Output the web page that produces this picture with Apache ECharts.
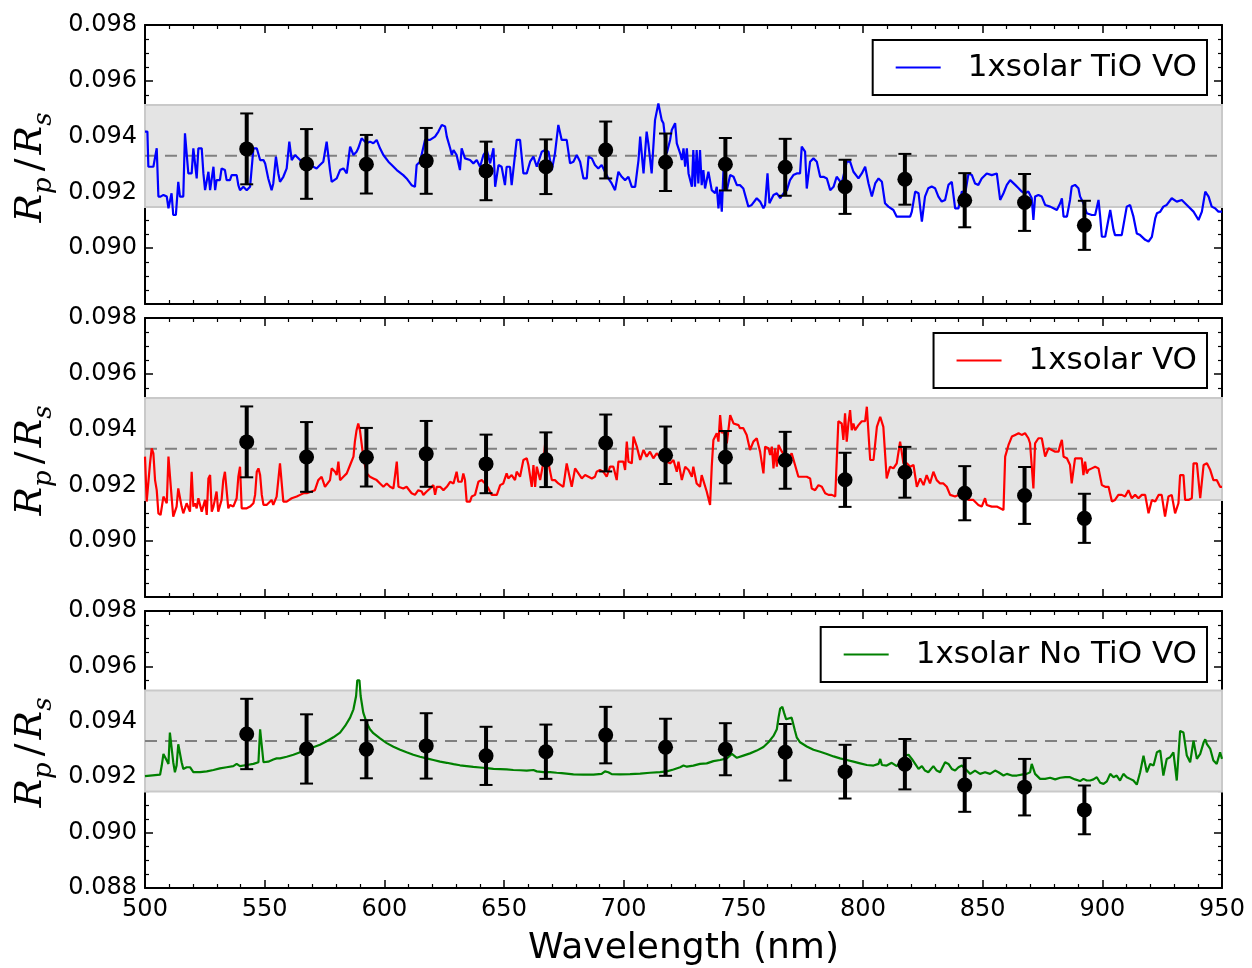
<!DOCTYPE html>
<html>
<head>
<meta charset="utf-8">
<script src="https://cdn.jsdelivr.net/npm/echarts@6/dist/echarts.min.js"></script>
<style>
  html, body { margin: 0; padding: 0; background: #fff; }
  #chart { width: 1252px; height: 968px; }
</style>
</head>
<body>
<div id="chart"></div>
<script>
// binned transit depths (wavelength nm, Rp/Rs, 1-sigma error)
var binWave = [542.5, 567.5, 592.5, 617.5, 642.5, 667.5, 692.5, 717.5, 742.5, 767.5, 792.5, 817.5, 842.5, 867.5, 892.5];
var binRp = [0.09356, 0.09302, 0.09301, 0.09313, 0.09277, 0.09292, 0.09352, 0.09308, 0.09301, 0.09290, 0.09220, 0.09247, 0.09172, 0.09164, 0.09082];
var binErr = [0.00127, 0.00125, 0.00105, 0.00118, 0.00105, 0.00098, 0.00102, 0.00103, 0.00094, 0.00102, 0.00097, 0.00091, 0.00097, 0.00102, 0.00088];

// grey band and mean level
var bandLow = 0.09148;
var bandHigh = 0.09513;
var meanRp = 0.09331;

var xTicks = [500, 950, 50];
var yTicks = [0.088, 0.098, 0.002];

var names = ['1xsolar TiO VO', '1xsolar VO', '1xsolar No TiO VO'];
var colors = ['#0000ff', '#ff0000', '#008000'];

// model spectra [wavelength, Rp/Rs]
var modelTiOVO = [[500.0,0.09418],[501.0,0.09418],[501.4,0.09292],[503.5,0.09292],[504.9,0.09358],[505.6,0.09185],[506.5,0.09185],[507.7,0.09191],[509.1,0.09185],[509.8,0.09143],[510.4,0.09143],[511.1,0.09197],[511.8,0.09119],[512.9,0.09119],[513.9,0.09238],[514.6,0.09185],[516.0,0.09185],[516.7,0.09412],[517.4,0.09412],[518.1,0.09268],[519.5,0.09268],[520.2,0.09358],[521.6,0.09250],[522.3,0.09358],[523.7,0.09358],[524.4,0.09268],[525.1,0.09208],[525.8,0.09208],[526.5,0.09274],[527.2,0.09208],[528.6,0.09292],[529.3,0.09208],[529.9,0.09244],[531.3,0.09244],[532.0,0.09286],[533.4,0.09280],[534.1,0.09244],[535.5,0.09244],[536.2,0.09262],[538.3,0.09262],[539.0,0.09226],[539.7,0.09208],[540.4,0.09208],[541.1,0.09220],[542.5,0.09208],[543.9,0.09220],[545.3,0.09358],[546.7,0.09358],[548.1,0.09316],[549.5,0.09316],[550.2,0.09304],[551.5,0.09250],[552.9,0.09208],[553.6,0.09232],[554.7,0.09328],[555.7,0.09268],[556.4,0.09238],[557.8,0.09256],[559.2,0.09286],[560.3,0.09382],[561.3,0.09316],[562.7,0.09334],[564.8,0.09316],[566.2,0.09316],[567.6,0.09298],[569.0,0.09304],[570.3,0.09292],[571.7,0.09286],[573.1,0.09298],[574.5,0.09310],[575.9,0.09382],[577.3,0.09280],[578.0,0.09238],[580.1,0.09250],[581.5,0.09280],[582.9,0.09286],[584.3,0.09268],[585.7,0.09364],[587.1,0.09334],[588.4,0.09346],[589.1,0.09358],[590.5,0.09394],[592.6,0.09376],[594.0,0.09382],[595.4,0.09376],[596.8,0.09388],[598.2,0.09358],[599.6,0.09334],[601.7,0.09310],[603.1,0.09298],[605.2,0.09280],[607.9,0.09262],[609.3,0.09250],[611.4,0.09226],[612.8,0.09220],[613.5,0.09298],[614.9,0.09310],[617.0,0.09388],[619.1,0.09388],[621.2,0.09400],[622.6,0.09418],[624.0,0.09442],[625.4,0.09436],[626.1,0.09400],[627.5,0.09358],[628.2,0.09334],[628.9,0.09352],[630.2,0.09334],[631.6,0.09280],[632.3,0.09358],[633.7,0.09322],[635.8,0.09316],[637.2,0.09304],[638.6,0.09316],[640.0,0.09292],[641.4,0.09334],[642.8,0.09352],[644.2,0.09304],[645.6,0.09358],[646.3,0.09220],[647.7,0.09298],[649.0,0.09292],[650.4,0.09226],[651.1,0.09292],[652.5,0.09292],[653.2,0.09226],[655.3,0.09388],[656.7,0.09388],[658.1,0.09268],[659.5,0.09268],[660.9,0.09310],[662.3,0.09328],[663.7,0.09292],[665.8,0.09346],[667.2,0.09352],[668.6,0.09346],[670.0,0.09280],[671.3,0.09340],[672.7,0.09442],[674.1,0.09388],[676.2,0.09388],[677.6,0.09304],[679.0,0.09310],[680.4,0.09334],[681.8,0.09310],[683.2,0.09250],[684.6,0.09250],[685.3,0.09328],[686.7,0.09322],[688.0,0.09298],[689.4,0.09286],[690.8,0.09298],[693.6,0.09250],[695.0,0.09232],[696.4,0.09208],[697.8,0.09274],[699.2,0.09256],[700.6,0.09244],[702.0,0.09256],[703.4,0.09220],[704.8,0.09220],[706.2,0.09316],[706.9,0.09400],[708.3,0.09268],[709.6,0.09418],[710.3,0.09376],[711.7,0.09268],[713.1,0.09459],[714.5,0.09519],[715.2,0.09519],[715.9,0.09459],[716.6,0.09448],[718.0,0.09340],[719.4,0.09388],[720.1,0.09424],[721.5,0.09448],[722.2,0.09376],[723.6,0.09340],[724.3,0.09316],[725.0,0.09358],[725.7,0.09292],[726.4,0.09358],[727.1,0.09268],[728.5,0.09220],[729.1,0.09352],[729.8,0.09220],[730.5,0.09352],[731.2,0.09232],[731.9,0.09352],[732.6,0.09226],[733.3,0.09280],[734.0,0.09214],[735.4,0.09274],[736.8,0.09208],[738.2,0.09197],[738.9,0.09220],[739.6,0.09143],[740.3,0.09208],[741.0,0.09131],[741.7,0.09280],[743.1,0.09208],[744.5,0.09262],[745.9,0.09256],[747.3,0.09226],[748.6,0.09226],[750.0,0.09214],[750.7,0.09220],[752.1,0.09149],[753.5,0.09155],[755.6,0.09179],[757.0,0.09167],[758.4,0.09143],[759.1,0.09155],[760.1,0.09268],[760.9,0.09161],[762.6,0.09191],[764.0,0.09197],[765.4,0.09179],[766.8,0.09197],[768.2,0.09208],[769.5,0.09244],[770.9,0.09262],[772.3,0.09268],[773.7,0.09268],[774.4,0.09364],[775.8,0.09346],[776.5,0.09214],[777.9,0.09310],[779.3,0.09322],[780.7,0.09310],[782.1,0.09256],[783.5,0.09256],[784.9,0.09250],[786.3,0.09208],[787.7,0.09220],[789.0,0.09256],[791.1,0.09232],[793.2,0.09310],[794.6,0.09310],[796.0,0.09274],[798.1,0.09250],[799.5,0.09268],[800.9,0.09292],[802.3,0.09232],[803.7,0.09185],[805.1,0.09232],[806.5,0.09250],[807.9,0.09238],[809.2,0.09161],[810.6,0.09149],[812.7,0.09137],[814.1,0.09113],[815.5,0.09113],[819.7,0.09113],[820.4,0.09131],[821.8,0.09203],[823.2,0.09197],[824.6,0.09095],[825.9,0.09185],[827.3,0.09215],[828.7,0.09221],[830.1,0.09215],[831.5,0.09185],[832.9,0.09167],[834.3,0.09173],[835.7,0.09227],[837.1,0.09238],[838.5,0.09143],[839.9,0.09143],[841.3,0.09203],[842.7,0.09197],[844.1,0.09268],[845.5,0.09262],[846.8,0.09232],[848.2,0.09227],[849.6,0.09250],[851.7,0.09268],[853.8,0.09262],[855.9,0.09268],[857.3,0.09173],[858.7,0.09197],[860.1,0.09227],[861.5,0.09244],[863.6,0.09227],[865.0,0.09215],[866.3,0.09203],[867.7,0.09197],[869.1,0.09203],[870.5,0.09179],[871.2,0.09101],[871.9,0.09185],[873.3,0.09191],[874.7,0.09185],[876.1,0.09155],[878.2,0.09149],[879.6,0.09143],[881.0,0.09137],[882.4,0.09161],[883.1,0.09179],[883.8,0.09113],[885.2,0.09113],[886.5,0.09173],[887.2,0.09221],[888.6,0.09227],[890.0,0.09215],[890.7,0.09185],[892.1,0.09161],[893.5,0.09125],[895.6,0.09119],[897.0,0.09119],[898.4,0.09173],[899.1,0.09113],[899.8,0.09041],[901.2,0.09041],[903.3,0.09137],[904.7,0.09065],[905.3,0.09047],[908.1,0.09047],[910.2,0.09149],[911.6,0.09155],[913.0,0.09113],[914.4,0.09053],[915.8,0.09047],[917.9,0.09030],[919.3,0.09024],[920.7,0.09041],[922.1,0.09107],[922.8,0.09125],[924.2,0.09131],[925.5,0.09149],[926.9,0.09155],[929.0,0.09179],[931.1,0.09167],[933.2,0.09173],[935.3,0.09155],[938.1,0.09131],[940.2,0.09101],[941.6,0.09131],[943.0,0.09203],[944.4,0.09185],[945.7,0.09149],[947.1,0.09143],[948.5,0.09131],[950.0,0.09131]];

var modelVO = [[500.0,0.09303],[500.7,0.09142],[501.4,0.09136],[502.1,0.09279],[502.8,0.09333],[503.5,0.09315],[504.2,0.09219],[504.9,0.09183],[505.6,0.09100],[506.5,0.09094],[507.7,0.09160],[508.4,0.09166],[509.1,0.09136],[509.8,0.09303],[510.4,0.09303],[511.1,0.09160],[511.8,0.09088],[513.2,0.09124],[513.9,0.09189],[514.6,0.09189],[515.3,0.09124],[516.0,0.09100],[517.4,0.09136],[518.8,0.09106],[519.5,0.09249],[520.2,0.09124],[520.9,0.09136],[521.6,0.09118],[522.3,0.09154],[523.0,0.09148],[523.7,0.09106],[524.4,0.09100],[525.1,0.09148],[525.8,0.09094],[526.5,0.09225],[527.2,0.09237],[527.9,0.09106],[528.6,0.09124],[529.9,0.09178],[530.6,0.09106],[531.3,0.09106],[532.0,0.09148],[532.7,0.09219],[533.4,0.09249],[534.1,0.09183],[534.8,0.09118],[535.5,0.09130],[536.9,0.09124],[538.3,0.09154],[539.0,0.09231],[539.7,0.09267],[540.4,0.09118],[542.5,0.09118],[543.9,0.09124],[545.3,0.09136],[546.0,0.09166],[546.7,0.09249],[547.4,0.09261],[548.1,0.09237],[548.8,0.09166],[549.5,0.09130],[550.8,0.09130],[552.9,0.09148],[553.6,0.09130],[555.0,0.09160],[556.4,0.09279],[557.1,0.09279],[557.8,0.09142],[559.2,0.09142],[561.3,0.09154],[563.4,0.09160],[564.8,0.09166],[566.2,0.09172],[567.6,0.09172],[569.6,0.09178],[571.0,0.09183],[572.4,0.09219],[573.1,0.09219],[573.8,0.09231],[574.5,0.09237],[575.2,0.09195],[575.9,0.09189],[577.3,0.09219],[578.0,0.09261],[578.7,0.09267],[579.4,0.09249],[580.1,0.09237],[580.8,0.09285],[581.5,0.09219],[582.9,0.09231],[584.3,0.09243],[585.7,0.09273],[587.1,0.09303],[587.7,0.09357],[588.4,0.09398],[589.1,0.09422],[589.8,0.09398],[591.2,0.09303],[592.6,0.09243],[594.0,0.09231],[595.4,0.09225],[596.8,0.09219],[598.2,0.09207],[599.6,0.09195],[601.0,0.09207],[602.4,0.09195],[603.8,0.09189],[605.2,0.09285],[605.9,0.09195],[607.9,0.09189],[609.3,0.09195],[611.4,0.09172],[612.8,0.09166],[614.2,0.09183],[615.6,0.09178],[616.3,0.09166],[617.7,0.09178],[619.1,0.09189],[620.5,0.09201],[621.2,0.09166],[621.9,0.09195],[623.3,0.09195],[624.7,0.09183],[626.1,0.09195],[627.5,0.09213],[628.9,0.09207],[630.2,0.09249],[630.9,0.09213],[632.3,0.09213],[633.0,0.09243],[633.7,0.09219],[634.4,0.09142],[635.8,0.09142],[636.5,0.09160],[637.9,0.09166],[639.3,0.09213],[640.7,0.09219],[642.1,0.09207],[643.5,0.09189],[644.9,0.09166],[647.0,0.09166],[648.4,0.09201],[649.7,0.09207],[651.1,0.09243],[651.8,0.09225],[653.2,0.09237],[654.6,0.09219],[655.3,0.09249],[656.7,0.09231],[658.1,0.09291],[659.5,0.09297],[660.2,0.09273],[660.9,0.09267],[661.6,0.09195],[662.3,0.09273],[663.0,0.09195],[663.7,0.09267],[665.1,0.09219],[666.5,0.09285],[667.2,0.09351],[668.6,0.09279],[670.0,0.09219],[671.3,0.09219],[672.7,0.09207],[674.8,0.09195],[676.2,0.09279],[676.9,0.09273],[678.3,0.09195],[679.7,0.09261],[681.1,0.09243],[682.5,0.09225],[683.9,0.09237],[685.3,0.09231],[686.7,0.09225],[688.0,0.09231],[688.7,0.09249],[690.1,0.09255],[691.5,0.09249],[692.9,0.09231],[694.3,0.09267],[695.7,0.09267],[697.1,0.09219],[697.8,0.09285],[698.5,0.09291],[699.9,0.09285],[700.6,0.09255],[701.3,0.09357],[702.0,0.09285],[702.7,0.09291],[703.4,0.09279],[704.1,0.09375],[704.8,0.09381],[705.5,0.09339],[706.9,0.09291],[708.3,0.09327],[709.6,0.09303],[711.0,0.09321],[712.4,0.09297],[713.8,0.09315],[715.2,0.09303],[716.6,0.09321],[718.0,0.09285],[719.4,0.09279],[720.8,0.09291],[722.2,0.09249],[722.9,0.09285],[724.3,0.09219],[725.7,0.09267],[727.1,0.09255],[728.5,0.09231],[729.1,0.09267],[730.5,0.09207],[731.9,0.09195],[732.6,0.09237],[733.3,0.09231],[734.7,0.09178],[736.1,0.09130],[736.8,0.09267],[737.5,0.09363],[738.2,0.09369],[738.9,0.09387],[739.6,0.09357],[740.3,0.09452],[741.0,0.09387],[741.7,0.09398],[743.1,0.09351],[744.5,0.09452],[745.2,0.09452],[745.9,0.09422],[748.0,0.09416],[748.6,0.09405],[750.0,0.09405],[751.4,0.09381],[752.8,0.09327],[753.5,0.09327],[754.2,0.09357],[755.6,0.09369],[756.3,0.09345],[757.0,0.09321],[758.4,0.09243],[759.1,0.09339],[760.5,0.09333],[761.2,0.09309],[761.9,0.09339],[762.6,0.09261],[763.3,0.09333],[764.0,0.09267],[764.7,0.09345],[766.1,0.09321],[767.5,0.09303],[768.9,0.09297],[770.2,0.09315],[771.6,0.09273],[773.0,0.09231],[774.4,0.09231],[776.5,0.09231],[777.9,0.09225],[778.6,0.09189],[780.0,0.09183],[781.4,0.09201],[782.8,0.09195],[784.2,0.09172],[785.6,0.09166],[787.0,0.09166],[788.4,0.09160],[789.7,0.09430],[791.1,0.09422],[791.8,0.09363],[792.5,0.09458],[793.2,0.09357],[793.9,0.09422],[794.6,0.09470],[795.3,0.09398],[796.0,0.09422],[796.7,0.09398],[798.1,0.09416],[799.5,0.09430],[800.9,0.09430],[801.6,0.09482],[802.3,0.09482],[803.0,0.09291],[804.4,0.09291],[805.8,0.09410],[807.2,0.09446],[807.9,0.09446],[808.5,0.09410],[809.9,0.09225],[811.3,0.09267],[812.7,0.09261],[814.1,0.09279],[815.5,0.09357],[816.2,0.09363],[816.9,0.09279],[818.3,0.09279],[819.7,0.09267],[821.1,0.09273],[822.5,0.09195],[823.9,0.09225],[825.3,0.09201],[826.6,0.09237],[828.0,0.09207],[829.4,0.09249],[830.8,0.09219],[832.2,0.09207],[833.6,0.09207],[835.0,0.09195],[836.4,0.09166],[838.5,0.09160],[839.9,0.09166],[842.0,0.09166],[844.1,0.09148],[846.1,0.09148],[848.2,0.09130],[849.6,0.09124],[851.0,0.09154],[851.7,0.09130],[853.8,0.09124],[855.9,0.09124],[857.3,0.09118],[858.7,0.09112],[859.4,0.09303],[860.8,0.09345],[862.2,0.09375],[863.6,0.09381],[865.0,0.09387],[866.3,0.09381],[867.7,0.09387],[869.1,0.09369],[869.8,0.09351],[870.5,0.09357],[871.2,0.09189],[871.9,0.09351],[873.3,0.09369],[874.7,0.09369],[876.1,0.09303],[877.5,0.09333],[878.9,0.09327],[880.3,0.09321],[881.7,0.09321],[882.4,0.09345],[883.1,0.09363],[883.8,0.09303],[885.2,0.09297],[886.5,0.09273],[887.2,0.09207],[888.6,0.09297],[890.0,0.09297],[891.4,0.09297],[892.1,0.09237],[892.8,0.09285],[893.5,0.09243],[894.2,0.09255],[895.6,0.09261],[897.0,0.09267],[898.4,0.09261],[899.8,0.09201],[901.2,0.09195],[902.6,0.09195],[904.0,0.09142],[905.3,0.09148],[906.7,0.09166],[908.1,0.09166],[909.5,0.09160],[910.9,0.09183],[912.3,0.09154],[913.7,0.09166],[915.1,0.09154],[916.5,0.09166],[917.9,0.09166],[919.3,0.09100],[920.7,0.09148],[922.1,0.09142],[923.5,0.09166],[924.8,0.09166],[926.2,0.09088],[927.6,0.09160],[929.0,0.09166],[930.4,0.09100],[931.8,0.09136],[932.5,0.09237],[933.9,0.09237],[934.6,0.09148],[936.0,0.09148],[937.4,0.09154],[938.1,0.09279],[939.5,0.09279],[940.9,0.09154],[941.6,0.09148],[942.3,0.09273],[943.7,0.09279],[945.1,0.09255],[946.4,0.09219],[947.8,0.09219],[949.2,0.09195],[950.0,0.09195]];

var modelNoTiOVO = [[500.0,0.09204],[502.1,0.09206],[506.3,0.09209],[507.0,0.09242],[507.7,0.09284],[508.4,0.09290],[509.1,0.09260],[509.8,0.09248],[510.4,0.09361],[511.1,0.09367],[511.8,0.09254],[512.5,0.09218],[513.2,0.09242],[513.9,0.09319],[514.6,0.09319],[515.3,0.09254],[516.0,0.09230],[517.4,0.09236],[518.8,0.09236],[520.2,0.09218],[523.0,0.09218],[525.8,0.09221],[528.6,0.09226],[531.3,0.09232],[532.0,0.09236],[534.1,0.09236],[536.9,0.09240],[538.3,0.09248],[539.0,0.09254],[539.7,0.09240],[542.5,0.09244],[545.3,0.09248],[547.4,0.09254],[548.1,0.09373],[548.8,0.09373],[549.5,0.09254],[551.5,0.09256],[553.6,0.09264],[555.0,0.09268],[556.4,0.09268],[559.2,0.09274],[562.0,0.09281],[564.8,0.09290],[567.6,0.09298],[570.3,0.09308],[573.1,0.09317],[575.9,0.09330],[578.7,0.09344],[581.5,0.09361],[583.6,0.09385],[585.7,0.09415],[587.1,0.09445],[588.2,0.09493],[588.7,0.09550],[589.6,0.09550],[590.1,0.09493],[591.2,0.09433],[592.6,0.09397],[594.0,0.09373],[595.4,0.09359],[598.2,0.09340],[601.0,0.09323],[603.8,0.09310],[606.6,0.09299],[609.3,0.09290],[612.1,0.09281],[614.9,0.09274],[617.7,0.09268],[620.5,0.09262],[623.3,0.09256],[626.1,0.09252],[628.9,0.09247],[631.6,0.09243],[634.4,0.09240],[637.2,0.09237],[640.0,0.09235],[642.8,0.09233],[645.6,0.09230],[648.4,0.09229],[651.1,0.09228],[653.9,0.09226],[656.7,0.09225],[659.5,0.09224],[662.3,0.09226],[663.7,0.09221],[666.5,0.09218],[669.3,0.09218],[672.0,0.09216],[674.1,0.09215],[674.8,0.09212],[679.0,0.09210],[683.2,0.09209],[687.4,0.09209],[690.8,0.09212],[692.2,0.09221],[693.6,0.09218],[695.0,0.09211],[698.5,0.09210],[702.7,0.09211],[706.9,0.09213],[711.0,0.09216],[715.2,0.09218],[718.0,0.09221],[720.8,0.09228],[723.6,0.09236],[725.0,0.09242],[726.4,0.09238],[729.1,0.09242],[731.9,0.09248],[734.7,0.09250],[737.5,0.09258],[740.3,0.09262],[743.1,0.09268],[745.2,0.09284],[745.9,0.09278],[747.3,0.09270],[750.0,0.09278],[752.8,0.09286],[755.6,0.09296],[758.4,0.09309],[760.5,0.09326],[762.6,0.09349],[764.0,0.09373],[764.7,0.09415],[765.4,0.09448],[766.3,0.09454],[767.0,0.09433],[767.9,0.09409],[768.9,0.09412],[770.2,0.09415],[770.9,0.09409],[771.6,0.09367],[772.3,0.09344],[773.7,0.09326],[776.5,0.09311],[779.3,0.09299],[782.1,0.09292],[784.9,0.09284],[787.7,0.09275],[790.4,0.09268],[793.2,0.09262],[796.0,0.09256],[798.8,0.09250],[801.6,0.09244],[804.4,0.09242],[806.5,0.09248],[807.2,0.09266],[807.9,0.09244],[809.9,0.09242],[812.0,0.09252],[814.1,0.09240],[815.5,0.09254],[817.6,0.09278],[819.0,0.09281],[820.4,0.09266],[821.8,0.09248],[823.2,0.09230],[824.6,0.09240],[825.9,0.09224],[827.3,0.09218],[829.4,0.09240],[830.8,0.09224],[832.2,0.09218],[834.3,0.09254],[835.7,0.09248],[837.1,0.09230],[838.5,0.09224],[839.9,0.09236],[841.3,0.09242],[842.7,0.09230],[844.8,0.09212],[846.8,0.09224],[848.9,0.09212],[851.0,0.09218],[853.1,0.09212],[855.2,0.09224],[856.6,0.09218],[858.7,0.09206],[860.1,0.09212],[862.2,0.09206],[864.3,0.09206],[866.3,0.09209],[868.4,0.09212],[869.8,0.09218],[870.5,0.09248],[871.9,0.09212],[874.0,0.09194],[876.1,0.09194],[878.2,0.09198],[880.3,0.09192],[882.4,0.09198],[884.5,0.09200],[886.5,0.09200],[888.6,0.09192],[890.7,0.09186],[892.1,0.09194],[893.5,0.09188],[894.9,0.09188],[896.3,0.09192],[897.7,0.09200],[899.1,0.09180],[900.5,0.09176],[901.9,0.09185],[903.3,0.09212],[904.7,0.09200],[906.0,0.09206],[907.4,0.09188],[908.8,0.09212],[910.2,0.09200],[911.6,0.09194],[913.0,0.09188],[914.4,0.09173],[915.8,0.09218],[917.2,0.09278],[918.6,0.09218],[920.0,0.09248],[921.4,0.09242],[922.8,0.09290],[924.2,0.09296],[925.5,0.09206],[926.9,0.09266],[928.3,0.09272],[929.7,0.09290],[931.1,0.09188],[932.5,0.09367],[933.9,0.09361],[935.3,0.09278],[936.7,0.09254],[938.1,0.09332],[939.5,0.09266],[940.9,0.09284],[942.3,0.09325],[943.0,0.09337],[943.7,0.09319],[945.1,0.09302],[946.4,0.09260],[947.8,0.09248],[949.2,0.09290],[950.0,0.09266]];

var models = [modelTiOVO, modelVO, modelNoTiOVO];

var gridTops = [25, 318, 611];
var legendTops = [40, 333, 627];

var errData = [];
for (var k = 0; k < binWave.length; k++) {
    errData.push([binWave[k], binRp[k], binErr[k]]);
}
var ptData = [];
for (var k = 0; k < binWave.length; k++) {
    ptData.push([binWave[k], binRp[k]]);
}

function renderErr(params, api) {
    var x = api.value(0), y = api.value(1), e = api.value(2);
    var top = api.coord([x, y + e]);
    var bot = api.coord([x, y - e]);
    var hw = 6.5;
    return {
        type: 'group',
        children: [
            {type: 'line', shape: {x1: top[0], y1: top[1], x2: bot[0], y2: bot[1]}, style: {stroke: '#000', lineWidth: 4}},
            {type: 'line', shape: {x1: top[0] - hw, y1: top[1], x2: top[0] + hw, y2: top[1]}, style: {stroke: '#000', lineWidth: 2}},
            {type: 'line', shape: {x1: bot[0] - hw, y1: bot[1], x2: bot[0] + hw, y2: bot[1]}, style: {stroke: '#000', lineWidth: 2}}
        ]
    };
}

var font = 'DejaVu Sans';
var grids = [], xAxes = [], yAxes = [], series = [], legends = [];

for (var i = 0; i < 3; i++) {
    var last = (i == 2);
    grids.push({left: 145, top: gridTops[i], width: 1077, height: 279});

    // bottom + top x axes
    xAxes.push({
        type: 'value', gridIndex: i, min: xTicks[0], max: xTicks[1], interval: xTicks[2],
        position: 'bottom',
        axisLine: {show: true, onZero: false, lineStyle: {color: '#000', width: 2}},
        axisTick: {show: true, inside: true, length: 8, lineStyle: {color: '#000', width: 1.5}},
        minorTick: {show: true, splitNumber: 5, length: 4, lineStyle: {color: '#000', width: 1.2}},
        splitLine: {show: false},
        axisLabel: {show: last, fontSize: 24, fontFamily: font, color: '#000', margin: 10},
        name: last ? 'Wavelength (nm)' : '',
        nameLocation: 'middle', nameGap: 43,
        nameTextStyle: {fontSize: 36, fontFamily: font, color: '#000'}
    });
    xAxes.push({
        type: 'value', gridIndex: i, min: xTicks[0], max: xTicks[1], interval: xTicks[2],
        position: 'top',
        axisLine: {show: true, onZero: false, lineStyle: {color: '#000', width: 2}},
        axisTick: {show: true, inside: true, length: 8, lineStyle: {color: '#000', width: 1.5}},
        minorTick: {show: true, splitNumber: 5, length: 4, lineStyle: {color: '#000', width: 1.2}},
        splitLine: {show: false},
        axisLabel: {show: false}
    });

    // left + right y axes
    yAxes.push({
        type: 'value', gridIndex: i, min: yTicks[0], max: yTicks[1], interval: yTicks[2],
        position: 'left',
        axisLine: {show: true, onZero: false, lineStyle: {color: '#000', width: 2}},
        axisTick: {show: true, inside: true, length: 8, lineStyle: {color: '#000', width: 1.5}},
        minorTick: {show: true, splitNumber: 4, length: 4, lineStyle: {color: '#000', width: 1.2}},
        splitLine: {show: false},
        axisLabel: {
            show: true, showMinLabel: last, fontSize: 24, fontFamily: font, color: '#000', margin: 8,
            formatter: function (v) { return v.toFixed(3); }
        },
        name: '{i|R}{b|p}{n|/}{i|R}{b|s}',
        nameLocation: 'middle', nameRotate: 90, nameGap: 88,
        nameTextStyle: {
            color: '#000',
            rich: {
                i: {fontFamily: 'DejaVu Serif', fontStyle: 'italic', fontSize: 38, lineHeight: 52, verticalAlign: 'middle', color: '#000'},
                b: {fontFamily: 'DejaVu Serif', fontStyle: 'italic', fontSize: 26, lineHeight: 52, verticalAlign: 'bottom', color: '#000', padding: [0, 6, 0, 0]},
                n: {fontFamily: 'DejaVu Serif', fontSize: 38, lineHeight: 52, verticalAlign: 'middle', color: '#000', padding: [0, 4, 0, 0]}
            }
        }
    });
    yAxes.push({
        type: 'value', gridIndex: i, min: yTicks[0], max: yTicks[1], interval: yTicks[2],
        position: 'right',
        axisLine: {show: true, onZero: false, lineStyle: {color: '#000', width: 2}},
        axisTick: {show: true, inside: true, length: 8, lineStyle: {color: '#000', width: 1.5}},
        minorTick: {show: true, splitNumber: 4, length: 4, lineStyle: {color: '#000', width: 1.2}},
        splitLine: {show: false},
        axisLabel: {show: false}
    });

    // grey band + dashed mean level
    series.push({
        type: 'line', name: 'mean' + i, xAxisIndex: 2 * i, yAxisIndex: 2 * i, z: 1,
        symbol: 'none', silent: true,
        data: [[xTicks[0], meanRp], [xTicks[1], meanRp]],
        lineStyle: {color: '#808080', width: 2, type: [12, 8]},
        markArea: {
            silent: true,
            itemStyle: {color: '#e4e4e4', borderColor: '#c9c9c9', borderWidth: 2},
            data: [[{yAxis: bandLow}, {yAxis: bandHigh}]]
        }
    });

    series.push({
        type: 'line', name: names[i], xAxisIndex: 2 * i, yAxisIndex: 2 * i, z: 2,
        symbol: 'none', data: models[i],
        lineStyle: {color: colors[i], width: 2.2}, itemStyle: {color: colors[i]}
    });

    series.push({
        type: 'custom', xAxisIndex: 2 * i, yAxisIndex: 2 * i, z: 3,
        renderItem: renderErr, data: errData, encode: {x: 0, y: 1}
    });
    series.push({
        type: 'scatter', xAxisIndex: 2 * i, yAxisIndex: 2 * i, z: 4,
        symbol: 'circle', symbolSize: 15, data: ptData,
        itemStyle: {color: '#000', opacity: 1}
    });

    legends.push({
        data: [names[i]], right: 45, top: legendTops[i],
        orient: 'horizontal', itemWidth: 45, itemHeight: 14,
        backgroundColor: '#fff', borderColor: '#000', borderWidth: 2, borderRadius: 0,
        padding: [12, 10, 12, 22],
        itemStyle: {opacity: 0},
        lineStyle: {color: colors[i], width: 2},
        textStyle: {fontSize: 31, fontFamily: font, color: '#000', padding: [0, 0, 0, 22]},
        selectedMode: false
    });
}

var myChart = echarts.init(document.getElementById('chart'), null, {renderer: 'canvas'});
myChart.setOption({
    animation: false,
    backgroundColor: '#fff',
    grid: grids,
    xAxis: xAxes,
    yAxis: yAxes,
    legend: legends,
    series: series
});
</script>
</body>
</html>
